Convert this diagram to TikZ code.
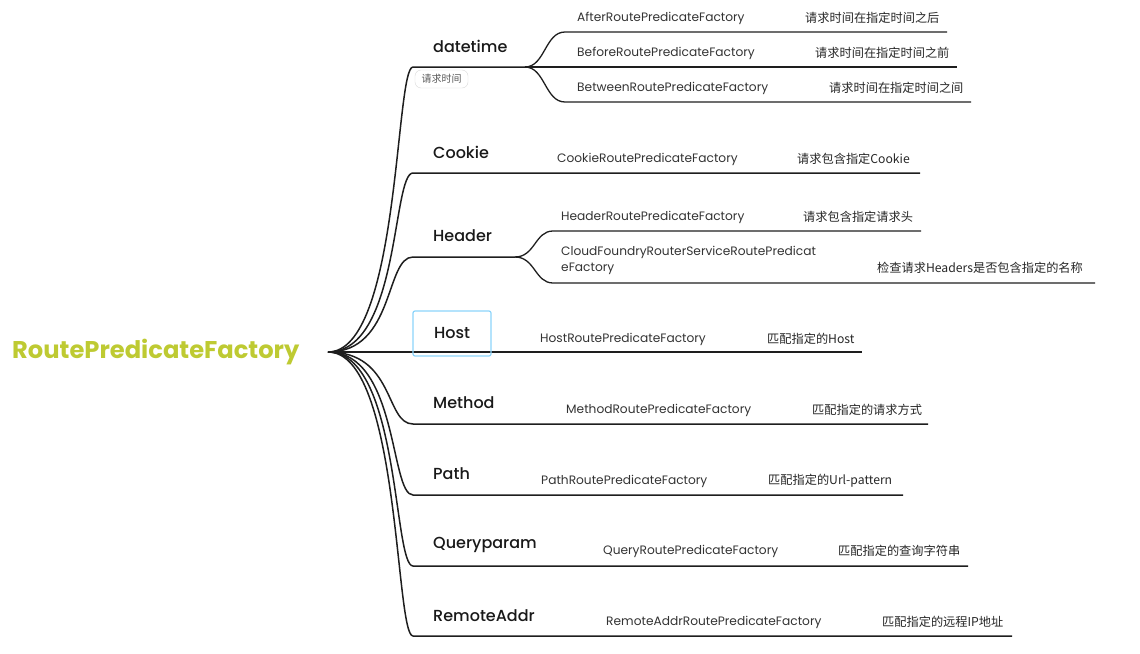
\documentclass[tikz,border=0pt]{standalone}
\usepackage{fontspec}
\setmainfont{Poppins}
\newfontfamily\topicfont{Poppins}[UprightFont={* Medium}]
\newfontfamily\cjk{Noto Sans CJK SC}
\usetikzlibrary{positioning}
\definecolor{rootgreen}{RGB}{190,202,50}
\definecolor{hostblue}{RGB}{140,212,250}
\definecolor{linegray}{RGB}{30,30,30}

\begin{document}
\begin{tikzpicture}[x=1pt,y=-1pt,
    branch/.style={draw=linegray, line width=1.5pt},
    leaf/.style={draw=linegray, line width=1.3pt},
    topic/.style={anchor=west, inner sep=0pt, text=black!90, font=\topicfont\fontsize{16}{19}\selectfont},
    factory/.style={anchor=west, inner sep=0pt, text=black!80, align=left, font=\fontsize{12.2}{16}\selectfont},
    desc/.style={anchor=west, inner sep=0pt, text=black!85, font=\cjk\fontsize{12.2}{14}\selectfont},
    notebox/.style={draw=black!15, rounded corners=6pt, minimum width=53pt, minimum height=18pt, inner sep=0pt, text=black!65, font=\cjk\fontsize{10}{11}\selectfont}]
\useasboundingbox (0,0) rectangle (1140,653);

\node[anchor=west, inner sep=0pt, text=rootgreen, font=\bfseries\fontsize{24.2}{28}\selectfont] (root) at (12,352) {RoutePredicateFactory};
\coordinate (hub) at (328,352);

% datetime
\node[topic] (datetime) at (433,46) {datetime};
\node[notebox] (dtnote) at (441.5,79) {请求时间};
\coordinate (dt0) at (413,67); \coordinate (dt1) at (525,67);
\draw[branch] (hub) .. controls (400,352) and (395,67) .. (dt0) -- (dt1);
\coordinate (af0) at (565,32); \coordinate (af1) at (947,32);
\draw[leaf] (dt1) .. controls (545,67) and (545,32) .. (af0) -- (af1);
\node[factory] (after) at (577,18) {AfterRoutePredicateFactory};
\node[desc] (afterdesc) at (805,18) {请求时间在指定时间之后};
\coordinate (bf1) at (957,67);
\draw[leaf] (dt1) -- (bf1);
\node[factory] (before) at (577,53) {BeforeRoutePredicateFactory};
\node[desc] (beforedesc) at (815,53) {请求时间在指定时间之前};
\coordinate (bw0) at (565,102); \coordinate (bw1) at (971,102);
\draw[leaf] (dt1) .. controls (545,67) and (545,102) .. (bw0) -- (bw1);
\node[factory] (between) at (577,88) {BetweenRoutePredicateFactory};
\node[desc] (betweendesc) at (829,88) {请求时间在指定时间之间};

% Cookie
\node[topic] (cookie) at (433,152) {Cookie};
\coordinate (ck0) at (413,173); \coordinate (ck1) at (920,173);
\draw[branch] (hub) .. controls (400,352) and (392,173) .. (ck0) -- (ck1);
\node[factory] (cookief) at (557,159) {CookieRoutePredicateFactory};
\node[desc] (cookiedesc) at (797,159) {请求包含指定Cookie};

% Header
\node[topic] (header) at (433,236) {Header};
\coordinate (hd0) at (413,257); \coordinate (hd1) at (515,257);
\draw[branch] (hub) .. controls (395,352) and (385,257) .. (hd0) -- (hd1);
\coordinate (hf0) at (553,231); \coordinate (hf1) at (921,231);
\draw[leaf] (hd1) .. controls (535,257) and (535,231) .. (hf0) -- (hf1);
\node[factory] (headerf) at (561,217) {HeaderRoutePredicateFactory};
\node[desc] (headerdesc) at (803,217) {请求包含指定请求头};
\coordinate (cf0) at (553,283); \coordinate (cf1) at (1095,283);
\draw[leaf] (hd1) .. controls (535,257) and (535,283) .. (cf0) -- (cf1);
\node[factory] (cloudf) at (561,260) {CloudFoundryRouterServiceRoutePredicat\\eFactory};
\node[desc] (clouddesc) at (877,268) {检查请求Headers是否包含指定的名称};

% Host
\coordinate (hs0) at (413,352); \coordinate (hs1) at (862,352);
\draw[branch] (hub) -- (hs0) -- (hs1);
\node[draw=hostblue, line width=1.2pt, rounded corners=2pt, minimum width=78pt, minimum height=45pt, inner sep=0pt, text=black!90, font=\topicfont\fontsize{16}{19}\selectfont] (host) at (452,333.5) {Host};
\node[factory] (hostf) at (540,339) {HostRoutePredicateFactory};
\node[desc] (hostdesc) at (767,339) {匹配指定的Host};

% Method
\node[topic] (method) at (433,403) {Method};
\coordinate (md0) at (413,424); \coordinate (md1) at (928,424);
\draw[branch] (hub) .. controls (395,352) and (385,424) .. (md0) -- (md1);
\node[factory] (methodf) at (566,410) {MethodRoutePredicateFactory};
\node[desc] (methoddesc) at (812,410) {匹配指定的请求方式};

% Path
\node[topic] (path) at (433,474) {Path};
\coordinate (pt0) at (413,495); \coordinate (pt1) at (903,495);
\draw[branch] (hub) .. controls (398,352) and (390,495) .. (pt0) -- (pt1);
\node[factory] (pathf) at (541,481) {PathRoutePredicateFactory};
\node[desc] (pathdesc) at (768,481) {匹配指定的Url-pattern};

% Queryparam
\node[topic] (query) at (433,545) {Queryparam};
\coordinate (qp0) at (413,566); \coordinate (qp1) at (968,566);
\draw[branch] (hub) .. controls (400,352) and (393,566) .. (qp0) -- (qp1);
\node[factory] (queryf) at (603,551) {QueryRoutePredicateFactory};
\node[desc] (querydesc) at (838,551) {匹配指定的查询字符串};

% RemoteAddr
\node[topic] (remote) at (433,616) {RemoteAddr};
\coordinate (ra0) at (413,636); \coordinate (ra1) at (1012,636);
\draw[branch] (hub) .. controls (400,352) and (395,636) .. (ra0) -- (ra1);
\node[factory] (remotef) at (606,622) {RemoteAddrRoutePredicateFactory};
\node[desc] (remotedesc) at (882,622) {匹配指定的远程IP地址};
\end{tikzpicture}
\end{document}
